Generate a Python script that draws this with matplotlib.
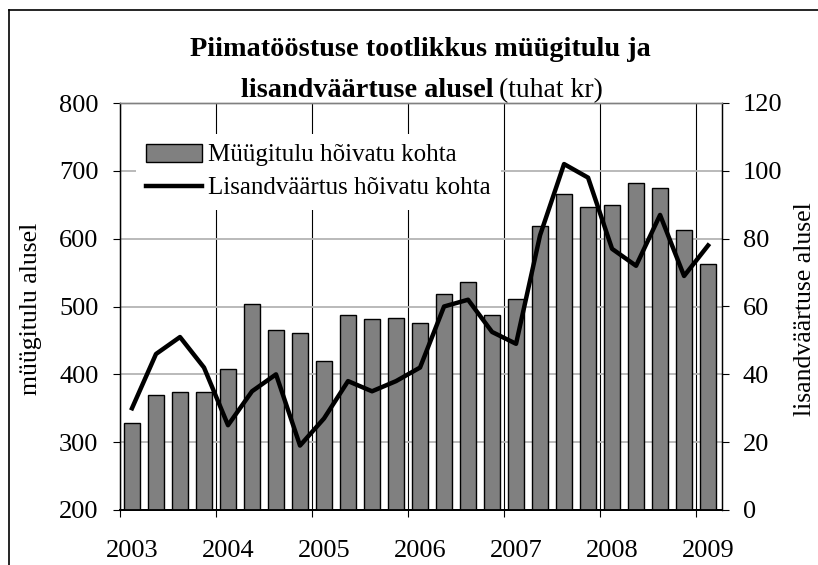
import matplotlib
matplotlib.use('Agg')
import matplotlib.pyplot as plt
import numpy as np
from matplotlib.lines import Line2D

plt.rcParams['font.family'] = ['Liberation Serif', 'DejaVu Serif']

years = ['2003', '2004', '2005', '2006', '2007', '2008', '2009']
sales = [328, 369, 374, 374, 408, 504, 465, 461, 419, 488, 481, 483, 476,
         518, 536, 488, 511, 618, 666, 647, 650, 682, 675, 613, 563]
value_added = [30, 46, 51, 42, 25, 35, 40, 19, 27, 38, 35, 38, 42,
               60, 62, 52.5, 49, 81, 102, 98, 77, 72, 87, 69, 78]
sales_label = 'Müügitulu hõivatu kohta'
va_label = 'Lisandväärtus hõivatu kohta'
title_line1 = 'Piimatööstuse tootlikkus müügitulu ja'
title_line2_bold = 'lisandväärtuse alusel'
title_line2_reg = '(tuhat kr)'
ylabel_left = 'müügitulu alusel'
ylabel_right = 'lisandväärtuse alusel'

W, H = 818, 565
fig = plt.figure(figsize=(W / 100, H / 100), dpi=100)
fig.patch.set_facecolor('white')

ax = fig.add_axes([120 / W, (H - 510) / H, 602 / W, 407 / H])
ax2 = ax.twinx()

x = np.arange(len(sales)) + 0.5
bars = ax.bar(x, sales, width=0.667, color='#808080', edgecolor='black',
              linewidth=1.0, zorder=3, label=sales_label)
ax.set_ylim(200, 800)
ax.set_xlim(0, 25.08)
ax.set_yticks(range(200, 801, 100))
ax.set_axisbelow(True)
ax.yaxis.grid(True, color='#b4b4b4', linewidth=1.3)

ax.set_xticks(np.arange(0, 25, 4))
ax.set_xticklabels([])
ax.set_xticks(np.arange(0, 25, 4) + 0.5, minor=True)
ax.set_xticklabels(years, minor=True)
ax.xaxis.grid(True, which='major', color='black', linewidth=0.8)
ax.tick_params(axis='x', which='major', direction='out', length=5, width=0.8, color='black')
ax.tick_params(axis='x', which='minor', length=0, pad=21.5, labelsize=19)
ax.tick_params(axis='y', direction='out', length=5, width=0.8, pad=10.5, labelsize=19)

line, = ax2.plot(x, value_added, color='black', linewidth=3.2, label=va_label,
                 solid_joinstyle='round', zorder=4)
ax2.set_ylim(0, 120)
ax2.set_yticks(range(0, 121, 20))
ax2.tick_params(axis='y', direction='out', length=5, width=0.8, pad=10, labelsize=19)

for a in (ax, ax2):
    a.spines['top'].set_color('#808080')
    a.spines['top'].set_linewidth(1.0)
    a.spines['left'].set_color('black')
    a.spines['left'].set_linewidth(0.9)
    a.spines['right'].set_color('black')
    a.spines['right'].set_linewidth(0.9)
    a.spines['bottom'].set_color('black')
    a.spines['bottom'].set_linewidth(1.3)

# axis titles
fig.text(31 / W, 1 - 309 / H, ylabel_left, rotation=90, ha='center', va='center', fontsize=18.5)
fig.text(805 / W, 1 - 309 / H, ylabel_right, rotation=90, ha='center', va='center', fontsize=18.5)

# title
fig.text(420 / W, 1 - 56 / H, title_line1, ha='center', va='baseline',
         fontsize=20.3, fontweight='bold')
tb = fig.text(0, 1 - 97 / H, title_line2_bold, ha='left', va='baseline',
              fontsize=20.3, fontweight='bold')
tr = fig.text(0, 1 - 97 / H, title_line2_reg, ha='left', va='baseline', fontsize=20)
fig.canvas.draw()
r = fig.canvas.get_renderer()
w1 = tb.get_window_extent(r).width
w2 = tr.get_window_extent(r).width
gap = 6
x0 = 422 - (w1 + gap + w2) / 2
tb.set_x(x0 / W)
tr.set_x((x0 + w1 + gap) / W)

# legend
fig.legend(handles=[bars, line], loc='upper left',
           bbox_to_anchor=(136 / W, 1 - 134 / H), frameon=True, fancybox=False,
           edgecolor='none', facecolor='white', framealpha=1, borderpad=0.4,
           handlelength=2.24, handletextpad=0.24, labelspacing=0.42, fontsize=18,
           borderaxespad=0)

# outer chart border (left and top visible)
fig.add_artist(Line2D([9 / W, 9 / W], [0, 1 - 10 / H], transform=fig.transFigure,
                      color='black', linewidth=1.2))
fig.add_artist(Line2D([9 / W, 1], [1 - 10 / H, 1 - 10 / H], transform=fig.transFigure,
                      color='black', linewidth=1.2))

fig.savefig('out.png', dpi=100)
